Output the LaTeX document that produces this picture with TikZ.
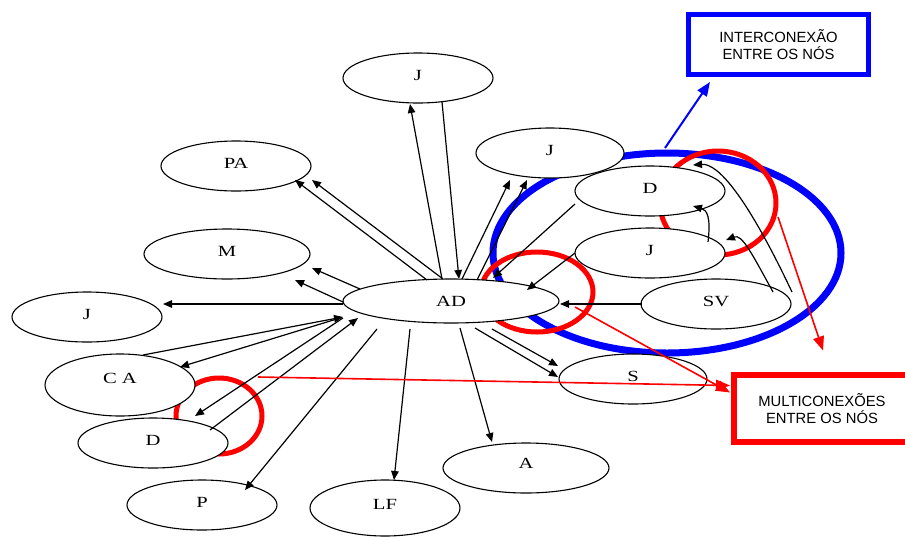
\documentclass[tikz,border=0pt]{standalone}
\usepackage{fontspec}
\setmainfont{Liberation Serif}
\newfontfamily\nodefont{Liberation Serif}[FakeStretch=1.33]
\newfontfamily\boxfont{Liberation Sans}
\usetikzlibrary{arrows.meta,calc,shapes.geometric}
\begin{document}
\begin{tikzpicture}[x=1pt,y=-1pt,
  nd/.style={ellipse,draw,line width=1.1pt,fill=white,inner sep=0pt,
    minimum width=150pt,minimum height=50pt,text depth=6pt,
    font=\nodefont\fontsize{15.5}{18}\selectfont},
  ring/.style={ellipse,draw=red,line width=5pt,inner sep=0pt},
  arr/.style={line width=1.2pt,-{Triangle[length=9pt,width=7.5pt]}},
  rarr/.style={draw=red,line width=1.6pt,-{Triangle[length=14pt,width=11pt]}},
  barr/.style={draw=blue,line width=2pt,-{Triangle[length=14pt,width=11pt]}},
  note/.style={line width=5pt,align=center,inner sep=0pt,
    font=\boxfont\fontsize{14.8}{17}\selectfont}
]
\useasboundingbox (0,0) rectangle (905,539);
% highlight rings (behind the nodes)
\node[ellipse,draw=blue,line width=7pt,inner sep=0pt,minimum width=348pt,minimum height=200pt] (BE) at (667,253) {};
\node[ring,minimum width=112pt,minimum height=80pt] (RA) at (537,292) {};
\node[ring,minimum width=116pt,minimum height=104pt] (RD) at (718,203) {};
\node[ring,minimum width=86pt,minimum height=76pt] (RC) at (219,416) {};
% nodes
\node[nd] (Jt) at (418,78) {J};
\node[nd,minimum width=148pt] (Jr) at (550,153) {J};
\node[nd] (PA) at (236,166) {PA};
\node[nd,minimum width=166pt] (M) at (227,254) {M};
\node[nd] (Dr) at (650,191) {D};
\node[nd] (Jm) at (650,253) {J};
\node[nd] (SV) at (716,304) {SV};
\node[nd,minimum width=216pt,minimum height=44pt,text depth=0pt] (AD) at (451,301) {AD};
\node[nd] (Jl) at (87,317) {J};
\node[nd,minimum height=62pt,text depth=14pt] (CA) at (120,385) {C A};
\node[nd] (Dl) at (153,443) {D};
\node[nd] (P) at (202,505) {P};
\node[nd,minimum height=56pt,text depth=8pt] (LF) at (385,508) {LF};
\node[nd,minimum width=148pt] (S) at (633,379) {S};
\node[nd,minimum width=166pt,text depth=10pt] (A) at (526,468) {A};
% note boxes
\node[note,draw=blue,minimum width=180pt,minimum height=60pt] (inter) at (778.5,44.5) {INTERCONEXÃO\\ENTRE OS NÓS};
\node[note,draw=red,line width=6pt,minimum width=176pt,minimum height=67pt] (multi) at (822,408.5) {MULTICONEXÕES\\ENTRE OS NÓS};
% black connectors
\draw[arr] ($(AD)+(-24,-21)$) -- ($(PA)+(59,14)$);
\draw[arr] ($(AD)+(-8,-22)$) -- ($(PA)+(76,14)$);
\draw[arr] ($(AD)+(-9,-22)$) -- ($(Jt)+(-8,26)$);
\draw[arr] ($(Jt)+(24,24)$) -- ($(AD)+(8,-22)$);
\draw[arr] ($(AD)+(11,-22)$) -- ($(Jr)+(-40,27)$);
\draw[arr] ($(AD)+(26,-21)$) -- ($(Jr)+(-23,27)$);
\draw[arr] ($(Dr)+(-75,13)$) -- ($(AD)+(42,-23)$);
\draw[arr] ($(Jm)+(-75,0)$) -- ($(AD)+(76,-11)$);
\draw[arr] ($(SV)+(-74,0)$) -- ($(AD)+(109,3)$);
\draw[arr] ($(AD)+(-91,-12)$) -- ($(M)+(85,14)$);
\draw[arr] ($(AD)+(-108,1)$) -- ($(M)+(68,26)$);
\draw[arr] ($(AD)+(-108,3)$) -- ($(Jl)+(76,-13)$);
\draw[arr] ($(CA)+(23,-30)$) -- ($(AD)+(-108,16)$);
\draw[arr] ($(AD)+(-111,17)$) -- ($(CA)+(60,-18)$);
\draw[arr] ($(AD)+(-108,17)$) -- ($(Dl)+(42,-27)$);
\draw[arr] ($(Dl)+(57,-13)$) -- ($(AD)+(-93,17)$);
\draw[arr] ($(AD)+(-74,28)$) -- ($(P)+(43,-15)$);
\draw[arr] ($(AD)+(-41,28)$) -- ($(LF)+(9,-28)$);
\draw[arr] ($(AD)+(9,27)$) -- ($(A)+(-34,-26)$);
\draw[arr] ($(AD)+(24,27)$) -- ($(S)+(-75,-2)$);
\draw[arr] ($(AD)+(41,28)$) -- ($(S)+(-75,-13)$);
% curved connectors among D, J, SV
\draw[arr] ($(Jm)+(58,-11)$) .. controls +(3,-25) and +(14,4) .. ($(Dr)+(43,15)$);
\draw[arr] ($(SV)+(76,-12)$) .. controls +(-45,-95) and +(25,-2) .. ($(Dr)+(43,-26)$);
\draw[arr] ($(SV)+(57,-12)$) .. controls +(-22,-40) and +(16,-6) .. ($(Jm)+(76,-13)$);
% annotation arrows
\draw[rarr] ($(RC)+(39,-39)$) -- ($(multi)+(-92,-23)$);
\draw[rarr] ($(RA)+(38,15)$) -- ($(multi)+(-92,-16)$);
\draw[rarr] ($(RD)+(60,14)$) -- ($(multi)+(1,-58)$);
\draw[barr] ($(BE)+(-2,-105)$) -- ($(inter)+(-68.5,37.5)$);
\end{tikzpicture}
\end{document}
